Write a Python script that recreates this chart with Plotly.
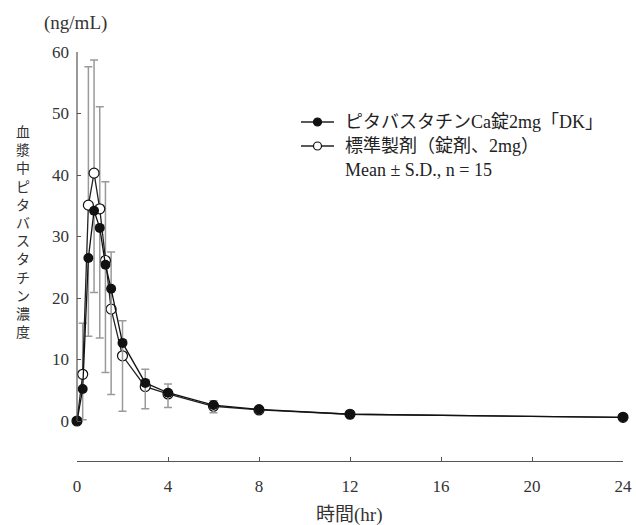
import plotly.graph_objects as go

# ---- data ----
time_hr = [0, 0.25, 0.5, 0.75, 1, 1.25, 1.5, 2, 3, 4, 6, 8, 12, 24]
test_mean = [0, 5.2, 26.5, 34.2, 31.4, 25.4, 21.5, 12.7, 6.2, 4.6, 2.6, 1.9, 1.1, 0.6]
test_sd_lower = [0, 5.0, 12.7, 13.3, 17.9, 17.5, 17.2, 11.1, 4.2, 2.4, 1.25, 0.5, 0.3, 0.2]
ref_mean = [0, 7.6, 35.1, 40.3, 34.5, 26.1, 18.2, 10.6, 5.6, 4.4, 2.4, 1.8, 1.1, 0.6]
ref_sd_upper = [0, 8.3, 22.5, 18.4, 16.6, 12.8, 9.3, 5.7, 2.8, 1.6, 0.9, 0.5, 0.3, 0.2]

x_ticks = [0, 4, 8, 12, 16, 20, 24]
y_ticks = [0, 10, 20, 30, 40, 50, 60]

test_name = "ピタバスタチンCa錠2mg「DK」"
ref_name = "標準製剤（錠剤、2mg）"
stats_note = "Mean ± S.D., n = 15"
y_title = "血漿中ピタバスタチン濃度"
y_unit = "(ng/mL)"
x_title = "時間(hr)"

FONT = "Liberation Serif, Noto Sans CJK JP, serif"
W, H = 636, 525
L, R, T, B = 77, 13, 52, 64
PW, PH = W - L - R, H - T - B


def px_x(px):
    return (px - L) / PW


def px_y(py):
    return (T + PH - py) / PH


zeros = [0] * len(time_hr)

fig = go.Figure()

# reference product (open circles, upper SD)
fig.add_trace(go.Scatter(
    x=time_hr, y=ref_mean, mode="lines+markers", name=ref_name, showlegend=False,
    line=dict(color="#222", width=1.3),
    marker=dict(symbol="circle", size=10, color="white", line=dict(color="#111", width=1.2)),
    error_y=dict(type="data", symmetric=False, array=ref_sd_upper, arrayminus=zeros,
                 color="#9a9a9a", thickness=1.5, width=4),
    cliponaxis=False,
))
# test product (filled circles, lower SD)
fig.add_trace(go.Scatter(
    x=time_hr, y=test_mean, mode="lines+markers", name=test_name, showlegend=False,
    line=dict(color="#111", width=1.3),
    marker=dict(symbol="circle", size=10, color="#111"),
    error_y=dict(type="data", symmetric=False, array=zeros, arrayminus=test_sd_lower,
                 color="#9a9a9a", thickness=1.5, width=4),
    cliponaxis=False,
))

shapes = []
# y-axis line from 0 to 60 only
shapes.append(dict(type="line", xref="paper", yref="y", x0=0, x1=0, y0=0, y1=60,
                   line=dict(color="#555", width=1.2)))

annotations = []

# ---- legend (drawn manually so it does not shrink the plot area) ----
leg_rows = [122, 146, 170]
leg_line_x0, leg_line_x1, leg_text_x = 301, 334, 343
leg_r = 4
for row_y, fill in [(leg_rows[0], "#111"), (leg_rows[1], "white")]:
    shapes.append(dict(type="line", xref="paper", yref="paper",
                       x0=px_x(leg_line_x0), x1=px_x(leg_line_x1),
                       y0=px_y(row_y), y1=px_y(row_y),
                       line=dict(color="#222", width=1.3)))
    cx = (leg_line_x0 + leg_line_x1) / 2
    shapes.append(dict(type="circle", xref="paper", yref="paper",
                       x0=px_x(cx - leg_r), x1=px_x(cx + leg_r),
                       y0=px_y(row_y + leg_r), y1=px_y(row_y - leg_r),
                       fillcolor=fill, line=dict(color="#111", width=1.2)))
for row_y, txt in zip(leg_rows, [test_name, ref_name, stats_note]):
    annotations.append(dict(text=txt, xref="paper", yref="paper",
                            x=px_x(leg_text_x), y=px_y(row_y),
                            xanchor="left", yanchor="middle", showarrow=False,
                            font=dict(family=FONT, size=18, color="#222")))

# vertical y title (one character per line)
annotations.append(dict(text="<br>".join(y_title), xref="paper", yref="paper",
                        x=px_x(23), y=px_y(232),
                        xanchor="center", yanchor="middle", showarrow=False,
                        font=dict(family=FONT, size=14, color="#333")))
annotations.append(dict(text=y_unit, xref="paper", yref="paper",
                        x=px_x(75), y=px_y(23),
                        xanchor="center", yanchor="middle", showarrow=False,
                        font=dict(family=FONT, size=19, color="#333")))
annotations.append(dict(text=x_title, xref="paper", yref="paper",
                        x=px_x(349), y=px_y(515),
                        xanchor="center", yanchor="middle", showarrow=False,
                        font=dict(family=FONT, size=19, color="#333")))

fig.update_layout(
    width=W, height=H,
    margin=dict(l=L, r=R, t=T, b=B),
    paper_bgcolor="white", plot_bgcolor="white",
    font=dict(family=FONT, size=17, color="#333"),
    showlegend=False,
    xaxis=dict(range=[0, 24], tickvals=x_ticks, showgrid=False, zeroline=False,
               showline=True, linecolor="#555", linewidth=1.2, automargin=False,
               ticks="inside", ticklen=4, tickcolor="#555", tickwidth=1.2,
               ticklabelstandoff=9, tickfont=dict(family=FONT, size=17, color="#333")),
    yaxis=dict(range=[-6.5, 60], tickvals=y_ticks, showgrid=False, zeroline=False,
               showline=False, ticks="inside", ticklen=4, tickcolor="#555", tickwidth=1.2,
               automargin=False,
               ticklabelstandoff=7, tickfont=dict(family=FONT, size=17, color="#333")),
    shapes=shapes,
    annotations=annotations,
)

fig.write_html("out.html")
